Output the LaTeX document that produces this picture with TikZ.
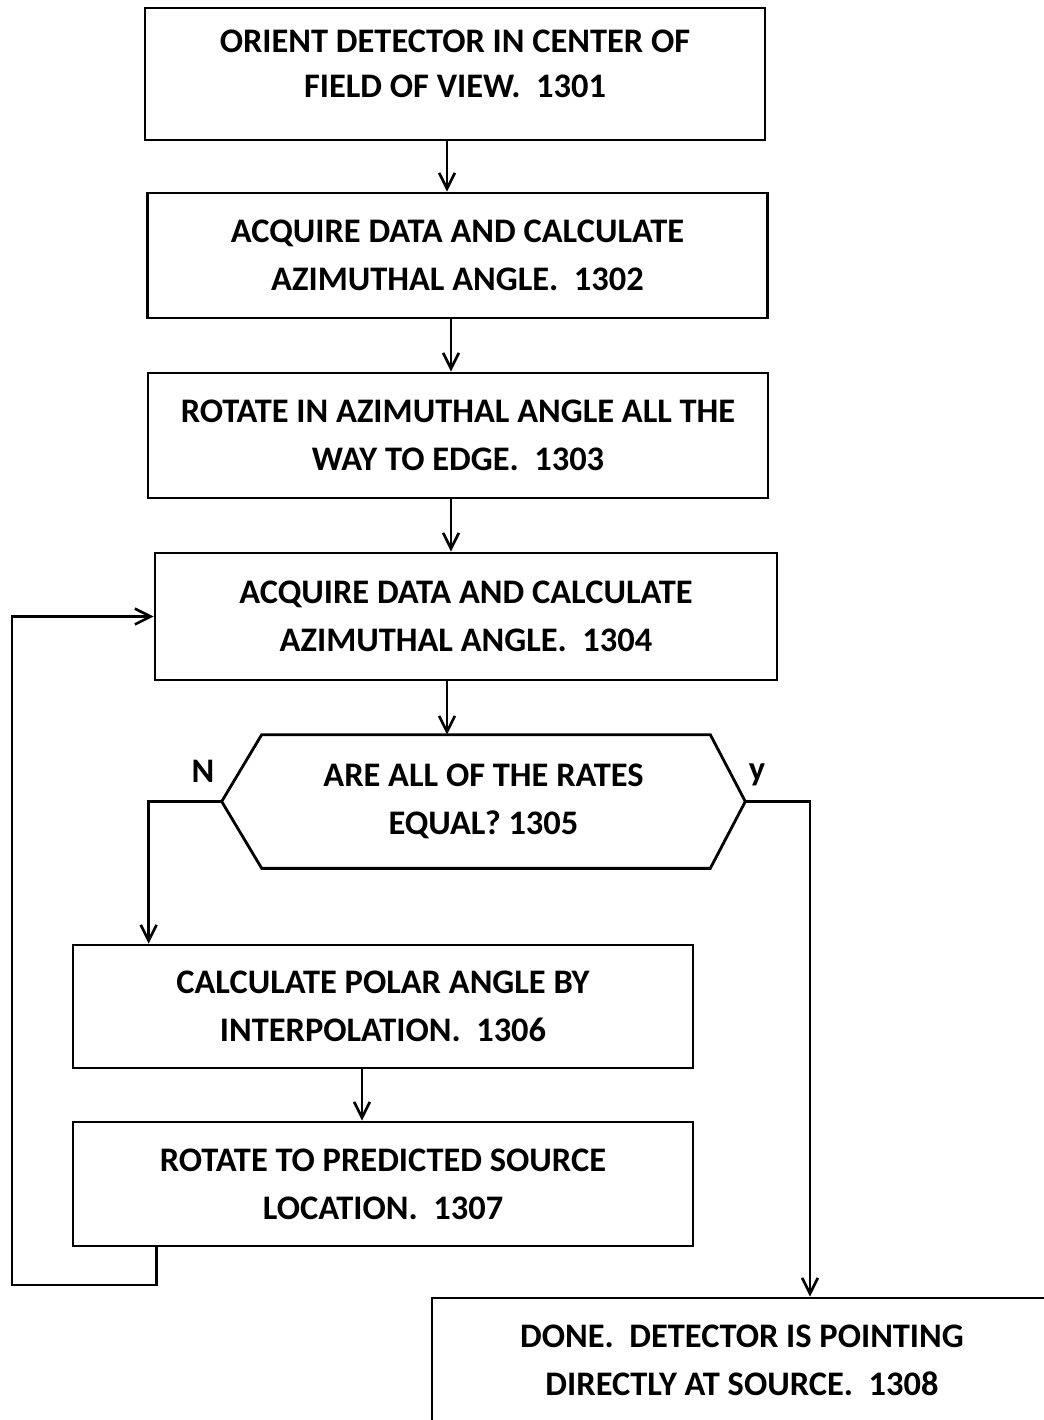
\documentclass[tikz,border=0pt]{standalone}
\usepackage{fontspec}
\setmainfont{Carlito}
\usetikzlibrary{arrows.meta}

\begin{document}
\begin{tikzpicture}[x=0.02cm,y=-0.02cm,
    stepbox/.style={draw, line width=1.6pt, minimum width=12.4cm, align=center,
        font=\bfseries\fontsize{19.6}{27.3}\selectfont},
    lbl/.style={font=\bfseries\fontsize{19.6}{27.3}\selectfont},
    arr/.style={-{Straight Barb[length=9pt,width=9pt]}, line width=1.5pt}]

        \fill[white] (0,0) rectangle (1044,1420);
        \clip (0,0) rectangle (1044,1420);

        \node[stepbox, minimum height=2.64cm, text depth=0.4cm, font=\bfseries\fontsize{19.6}{25.5}\selectfont] (n1301) at (455,74) {ORIENT DETECTOR IN CENTER OF\\FIELD OF VIEW.~~1301};
        \node[stepbox, minimum height=2.5cm] (n1302) at (457.5,255.5) {ACQUIRE DATA AND CALCULATE\\AZIMUTHAL ANGLE.~~1302};
        \node[stepbox, minimum height=2.5cm] (n1303) at (458,435.5) {ROTATE IN AZIMUTHAL ANGLE ALL THE\\WAY TO EDGE.~~1303};
        \node[stepbox, minimum height=2.54cm, minimum width=12.44cm] (n1304) at (466,616.5) {ACQUIRE DATA AND CALCULATE\\AZIMUTHAL ANGLE.~~1304};
        \node[lbl, align=center, minimum width=10.46cm, minimum height=2.66cm] (n1305) at (483.5,801.5) {ARE ALL OF THE RATES\\EQUAL? 1305};
        \node[stepbox, minimum height=2.46cm] (n1306) at (383,1006.5) {CALCULATE POLAR ANGLE BY\\INTERPOLATION.~~1306};
        \node[stepbox, minimum height=2.48cm] (n1307) at (383,1184) {ROTATE TO PREDICTED SOURCE\\LOCATION.~~1307};
        \node[stepbox, minimum height=2.48cm] (n1308) at (742,1360) {DONE.~~DETECTOR IS POINTING\\DIRECTLY AT SOURCE.~~1308};

        \node[lbl] (lblN) at (203,771) {N};
        \node[lbl] (lbly) at (757,775) {y};
        \coordinate (corner) at (12,1285);

        % decision outline
        \draw[line width=1.6pt] (n1305.west) -- ([xshift=0.8cm]n1305.north west) -- ([xshift=-0.7cm]n1305.north east)
            -- (n1305.east) -- ([xshift=-0.7cm]n1305.south east) -- ([xshift=0.8cm]n1305.south west) -- cycle;

        \draw[arr] ([xshift=-0.16cm]n1301.south) -- ([xshift=-0.16cm]n1301.south |- n1302.north);
        \draw[arr] ([xshift=-0.13cm]n1302.south) -- ([xshift=-0.13cm]n1302.south |- n1303.north);
        \draw[arr] ([xshift=-0.14cm]n1303.south) -- ([xshift=-0.14cm]n1303.south |- n1304.north);
        \draw[arr] ([xshift=-0.38cm]n1304.south) -- ([xshift=-0.38cm]n1304.south |- n1305.north);
        \draw[arr] (n1305.west) -| ([xshift=1.54cm]n1306.north west);
        \draw[arr] (n1305.east) -| ([xshift=1.36cm]n1308.north);
        \draw[arr] ([xshift=-0.42cm]n1306.south) -- ([xshift=-0.42cm]n1306.south |- n1307.north);
        \draw[arr] ([xshift=1.7cm]n1307.south west) |- (corner) |- (n1304.west);
\end{tikzpicture}
\end{document}
